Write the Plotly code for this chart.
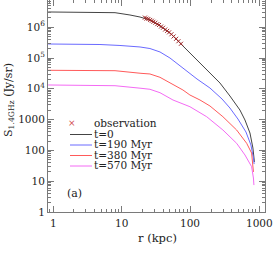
import math
import plotly.graph_objects as go

# ---- data ----
r_t0 = [0.85, 2, 5, 8.0, 13.2, 18.5, 25.8, 36.1, 50.5, 70.6, 98.6, 138, 193, 270, 377, 527, 624, 738, 815, 857]
s_t0 = [3.12e6, 3.1e6, 3.05e6, 2.96e6, 2.49e6, 2.14e6, 1.71e6, 1.09e6, 6.48e5, 3.07e5, 1.45e5, 6.88e4, 3.51e4, 1.54e4, 5840, 2050, 971, 367, 120, 42]

r_t190 = [0.85, 4.83, 9.44, 18.5, 25.8, 36.1, 50.5, 78.0, 125, 193, 289, 377, 493, 645, 762, 828, 849]
s_t190 = [2.85e5, 2.74e5, 2.55e5, 2.28e5, 2.03e5, 1.57e5, 1.0e5, 4.73e4, 2.08e4, 1.06e4, 4670, 2380, 1045, 396, 150, 57, 36]

r_t380 = [0.85, 8.0, 19.1, 25.8, 36.1, 50.5, 78.0, 98.6, 138, 193, 298, 472, 661, 780, 824, 829]
s_t380 = [3.99e4, 3.87e4, 3.18e4, 3.03e4, 2.36e4, 1.58e4, 9140, 6290, 4330, 2770, 1240, 459, 170, 82, 27, 20]

r_t570 = [0.85, 8.0, 19.1, 25.8, 36.1, 55.8, 98.6, 173, 298, 472, 624, 780, 829, 843]
s_t570 = [1.33e4, 1.26e4, 1.04e4, 9640, 7470, 4330, 2620, 1240, 459, 170, 71, 29.6, 12.7, 7.5]

r_obs = [21.8, 23, 24.5, 26, 27.5, 29, 31, 33, 35, 37.5, 40, 43, 46, 49, 53, 57, 62, 67, 73]
s_obs = [2.05e6, 1.9e6, 1.85e6, 1.72e6, 1.62e6, 1.5e6, 1.4e6, 1.26e6, 1.18e6, 1.05e6, 9.6e5, 8.4e5, 7.6e5, 6.8e5, 5.9e5, 5.0e5, 4.2e5, 3.5e5, 2.9e5]

ytick_vals = [1, 10, 100, 1000, 1e4, 1e5, 1e6]
ytick_text = ["1", "10", "100", "1000", "10<sup>4</sup>", "10<sup>5</sup>", "10<sup>6</sup>"]
xtick_vals = [1, 10, 100, 1000]
xtick_text = ["1", "10", "100", "1000"]

series = [
    ("t=0", r_t0, s_t0, "#444444"),
    ("t=190 Myr", r_t190, s_t190, "#6a6aff"),
    ("t=380 Myr", r_t380, s_t380, "#ff5a5a"),
    ("t=570 Myr", r_t570, s_t570, "#f46af4"),
]

FONT = "DejaVu Serif"
W, H = 275, 264
L, R, T, B = 48, 10, 0, 52
PW, PH = W - L - R, H - T - B

def px(x):
    return (x - L) / PW

def py(y):
    return (T + PH - y) / PH

fig = go.Figure()
for name, rr, ss, col in series:
    fig.add_trace(go.Scatter(x=rr, y=ss, mode="lines", name=name,
                             line=dict(color=col, width=1), showlegend=False))
fig.add_trace(go.Scatter(x=r_obs, y=s_obs, mode="markers", name="observation",
                         marker=dict(symbol="x-thin", size=4, color="#a02828",
                                     line=dict(width=1, color="#a02828")),
                         showlegend=False))

axis_common = dict(
    type="log", showgrid=False, zeroline=False,
    showline=True, linecolor="#7a7a7a", linewidth=1, mirror="allticks",
    ticks="inside", ticklen=6, tickcolor="#7a7a7a", tickwidth=1,
    tickfont=dict(family=FONT, size=10.5, color="#222222"),
    minor=dict(ticks="inside", ticklen=3, tickcolor="#7a7a7a", dtick="D1", showgrid=False),
)

fig.update_xaxes(**axis_common, range=[-0.073, 3.087], tickmode="array",
                 tickvals=xtick_vals, ticktext=xtick_text, showticklabels=False)
fig.update_yaxes(**axis_common, range=[0, 6.883], tickmode="array",
                 tickvals=ytick_vals, ticktext=ytick_text)

def note(text, x, y, size=11, xanchor="center", color="#222222", angle=0):
    return dict(text=text, x=px(x), y=py(y), xref="paper", yref="paper",
                xanchor=xanchor, yanchor="middle", textangle=angle, showarrow=False,
                font=dict(family=FONT, size=size, color=color))

ann = [
    note("S<sub>1.4GHz</sub> (Jy/sr)", 9, 100, size=11, angle=-90),
    note("r (kpc)", 157, 238, size=11.5),
    note("(a)", 74, 193),
    note("×", 72, 123, size=9, color="#d04848"),
    note("observation", 92, 123, size=10.5, xanchor="left"),
]
# x tick labels placed on the x scale
for v, t in zip(xtick_vals, xtick_text):
    ann.append(dict(text=t, x=math.log10(v), y=py(223), xref="x", yref="paper",
                    xanchor="center", yanchor="middle", showarrow=False,
                    font=dict(family=FONT, size=10.5, color="#222222")))
shapes = []
ys = [134.5, 145, 155.5, 166]
for (name, rr, ss, col), yy in zip(series, ys):
    shapes.append(dict(type="line", xref="paper", yref="paper", x0=px(70), x1=px(92),
                       y0=py(yy), y1=py(yy), line=dict(color=col, width=1)))
    ann.append(note(name, 92, yy - 1, size=10.5, xanchor="left"))

fig.update_layout(width=W, height=H, margin=dict(l=L, r=R, t=T, b=B, autoexpand=False),
                  plot_bgcolor="white", paper_bgcolor="white",
                  annotations=ann, shapes=shapes, showlegend=False)

fig.write_html("out.html", config={"displayModeBar": False},
               post_script="document.body.style.margin='0';")
